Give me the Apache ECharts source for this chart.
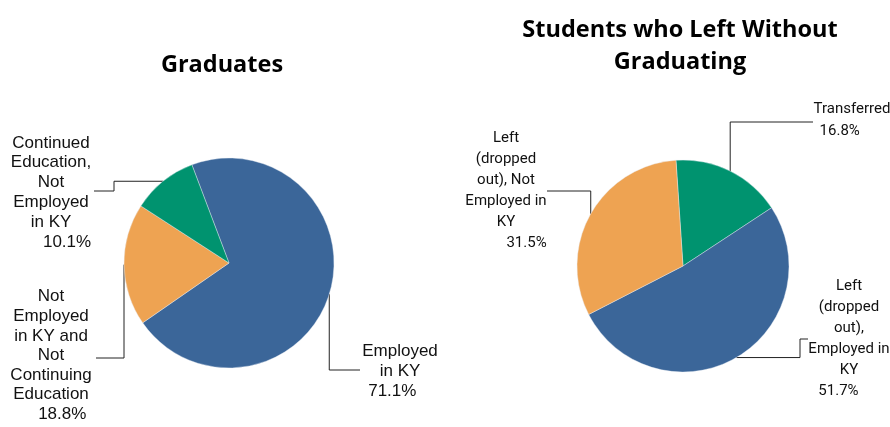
<!DOCTYPE html>
<html><head><meta charset="utf-8">
<script src="https://cdn.jsdelivr.net/npm/echarts@6/dist/echarts.min.js"></script>
<style>html,body{margin:0;padding:0;background:#fff}#c{width:890px;height:427px}</style>
</head><body><div id="c"></div>
<script>
// ---- data ----
const titleLeft = 'Graduates';
const titleRight = 'Students who Left Without\nGraduating';
const gradNames = ['Employed in KY', 'Not Employed in KY and Not Continuing Education', 'Continued Education, Not Employed in KY'];
const gradValues = [71.1, 18.8, 10.1];
const gradLabelLines = [['Employed', 'in KY'], ['Not', 'Employed', 'in KY and', 'Not', 'Continuing', 'Education'], ['Continued', 'Education,', 'Not', 'Employed', 'in KY']];
const leftNames = ['Transferred', 'Left (dropped out), Employed in KY', 'Left (dropped out), Not Employed in KY'];
const leftValues = [16.8, 51.7, 31.5];
const leftLabelLines = [['Transferred'], ['Left', '(dropped', 'out),', 'Employed in', 'KY'], ['Left', '(dropped', 'out), Not', 'Employed in', 'KY']];

// ---- styles / layout ----
const gradColors = ['#3B6699', '#EEA352', '#00936F'];
const leftColors = ['#00936F', '#3B6699', '#EEA352'];
const gradLayout = [
  { x: 400, y: 342, lh: 19.6, route: 'vh', lx: 360, ly: 370, pAlign: 'left', pPad: [0, 0, 0, 6] },
  { x: 51, y: 287, lh: 19.6, route: 'vh', lx: 96, ly: 358, pAlign: 'right', pPad: [0, 2, 0, 0] },
  { x: 51, y: 133, lh: 19.8, route: 'hvh', mx: 114, lx: 94, ly: 191, pAlign: 'right', pPad: [0, 0, 0, 0] }
];
const leftLayout = [
  { x: 852, y: 98, lh: 22, route: 'vh', lx: 813, ly: 122, pAlign: 'left', pPad: [0, 0, 0, 6] },
  { x: 849, y: 276, lh: 20.9, route: 'hvh', mx: 800, lx: 808, ly: 339, pAlign: 'left', pPad: [0, 0, 0, 10] },
  { x: 506, y: 128, lh: 21, route: 'vh', lx: 547, ly: 191, pAlign: 'right', pPad: [0, 0, 0, 0] }
];

function buildData(names, values, colors, lines, layout, font) {
  return names.map((n, i) => {
    const lh = layout[i].lh;
    return {
      name: n,
      value: values[i],
      itemStyle: { color: colors[i] },
      label: {
        fontFamily: font.family, fontSize: font.size, lineHeight: lh, overflow: 'none',
        formatter: lines[i].map(l => '{n|' + l + '}').join('\n') + '\n{p|' + values[i].toFixed(1) + '%}',
        rich: {
          n: { fontFamily: font.family, fontSize: font.size, lineHeight: lh, color: '#111', align: 'center' },
          p: { fontFamily: font.family, fontSize: font.size, lineHeight: lh, color: '#111', align: layout[i].pAlign, padding: layout[i].pPad }
        }
      }
    };
  });
}

function makeLayout(layout) {
  return function (params) {
    const L = layout[params.dataIndex];
    const p0 = params.labelLinePoints ? params.labelLinePoints[0] : [0, 0];
    let pts;
    if (L.route === 'vh') {
      pts = [p0, [p0[0], L.ly], [L.lx, L.ly]];
    } else {
      pts = [p0, [L.mx, p0[1]], [L.mx, L.ly], [L.lx, L.ly]];
    }
    return { x: L.x, y: L.y, align: 'center', verticalAlign: 'top', labelLinePoints: pts };
  };
}

const fontL = { family: '"Liberation Sans"', size: 17 };
const fontR = { family: 'Roboto', size: 15 };

const chart = echarts.init(document.getElementById('c'), null, { renderer: 'canvas' });
const seriesCommon = {
  type: 'pie',
  clockwise: true,
  animation: false,
  label: { show: true, position: 'outside', overflow: 'none' },
  labelLine: { show: true, smooth: false, lineStyle: { color: '#222', width: 1 } },
  emphasis: { disabled: true },
  itemStyle: { borderColor: '#e8eef5', borderWidth: 0.4 }
};
const titleStyle = { fontFamily: '"Open Sans"', fontWeight: 'bold', fontSize: 23.5, lineHeight: 32, color: '#000' };
chart.setOption({
  backgroundColor: '#fff',
  title: [
    { text: titleLeft, left: 222, top: 49, textAlign: 'center', padding: 0, textStyle: titleStyle },
    { text: titleRight, left: 680, top: 14, textAlign: 'center', padding: 0, textStyle: titleStyle }
  ],
  series: [
    Object.assign({}, seriesCommon, {
      center: [229, 263], radius: 105, startAngle: 110.7,
      data: buildData(gradNames, gradValues, gradColors, gradLabelLines, gradLayout, fontL),
      labelLayout: makeLayout(gradLayout)
    }),
    Object.assign({}, seriesCommon, {
      center: [683, 266], radius: 106, startAngle: 93.8,
      data: buildData(leftNames, leftValues, leftColors, leftLabelLines, leftLayout, fontR),
      labelLayout: makeLayout(leftLayout)
    })
  ]
});
</script></body></html>
